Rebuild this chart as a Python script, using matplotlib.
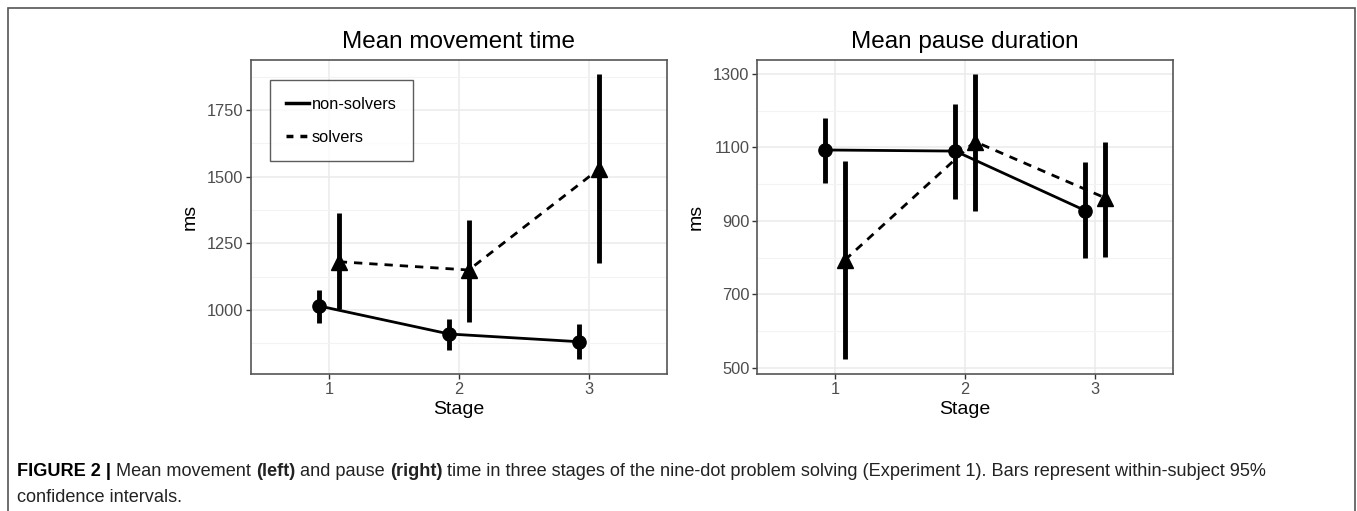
import matplotlib
matplotlib.use("Agg")
import matplotlib.pyplot as plt
from matplotlib.lines import Line2D
from matplotlib.patches import Rectangle
from matplotlib.ticker import FixedLocator

plt.rcParams['font.family'] = ['Liberation Sans', 'DejaVu Sans']

stages = [1, 2, 3]
stage_labels = ["1", "2", "3"]
groups = ["non-solvers", "solvers"]

# Mean movement time (ms)
move_non_mean = [1015, 910, 881]
move_non_lo = [952, 850, 815]
move_non_hi = [1075, 965, 946]
move_sol_mean = [1181, 1150, 1528]
move_sol_lo = [1002, 956, 1175]
move_sol_hi = [1362, 1337, 1885]
move_major = [1000, 1250, 1500, 1750]
move_minor = [875, 1125, 1375, 1625, 1875]

# Mean pause duration (ms)
pause_non_mean = [1093, 1090, 928]
pause_non_lo = [1004, 960, 800]
pause_non_hi = [1181, 1217, 1060]
pause_sol_mean = [793, 1116, 963]
pause_sol_lo = [523, 928, 802]
pause_sol_hi = [1064, 1300, 1116]
pause_major = [500, 700, 900, 1100, 1300]
pause_minor = [600, 800, 1000, 1200]

W, H = 1357, 511
fig = plt.figure(figsize=(W / 100, H / 100), dpi=100)

# outer frame
fig.patches.append(Rectangle((8 / W, -0.01), (1355 - 8) / W, 1 - 8 / H + 0.01,
                             transform=fig.transFigure, fill=False,
                             edgecolor='#555555', linewidth=1.2))

dodge = 0.075
tick_col = '#4d4d4d'
grid_col = '#ebebeb'


def panel(rect, title, nm, nlo, nhi, sm, slo, shi, ylim, major, minor, legend=False):
    ax = fig.add_axes(rect)
    ax.set_xlim(0.4, 3.6)
    ax.set_ylim(*ylim)
    xn = [s - dodge for s in stages]
    xs = [s + dodge for s in stages]
    ax.set_axisbelow(True)
    ax.xaxis.set_major_locator(FixedLocator(stages))
    ax.set_xticklabels(stage_labels)
    ax.yaxis.set_major_locator(FixedLocator(major))
    ax.yaxis.set_minor_locator(FixedLocator(minor))
    ax.grid(True, which='major', color=grid_col, linewidth=1.1)
    ax.grid(True, which='minor', axis='y', color='#f3f3f3', linewidth=0.8)
    ax.tick_params(axis='y', which='minor', length=0)
    ax.tick_params(which='major', length=3.5, width=1.0, color='#333333',
                   labelcolor=tick_col, labelsize=11.8, pad=2)
    for sp in ax.spines.values():
        sp.set_color('#555555')
        sp.set_linewidth(1.2)
    ax.plot(xn, nm, color='black', linewidth=2.0, linestyle='-', zorder=3)
    ax.plot(xs, sm, color='black', linewidth=2.0, linestyle=(0, (3, 2.5)), zorder=3)
    ax.vlines(xn, nlo, nhi, color='black', linewidth=3.5, zorder=4)
    ax.vlines(xs, slo, shi, color='black', linewidth=3.5, zorder=4)
    ax.plot(xn, nm, linestyle='none', marker='o', markersize=9.5, color='black', zorder=5)
    ax.plot(xs, sm, linestyle='none', marker='^', markersize=11, color='black', zorder=5)
    ax.set_title(title, fontsize=17.5, pad=9)
    ax.set_xlabel('Stage', fontsize=14, labelpad=3)
    ax.set_ylabel('ms', fontsize=14, labelpad=6)
    if legend:
        handles = [Line2D([], [], color='black', linewidth=2.5, linestyle='-'),
                   Line2D([], [], color='black', linewidth=2.5, linestyle=(0, (2, 2)))]
        leg = ax.legend(handles, groups, loc='upper left', bbox_to_anchor=(0.045, 0.935),
                        fontsize=11.8, frameon=True, fancybox=False, handlelength=1.4,
                        handletextpad=0.15, labelspacing=1.1,
                        borderpad=1.0, borderaxespad=0)
        leg.get_frame().set_edgecolor('#333333')
        leg.get_frame().set_linewidth(1.0)
    return ax


bottom = 1 - 374 / H
height = 314 / H
width = 416 / W
panel([251 / W, bottom, width, height], 'Mean movement time',
      move_non_mean, move_non_lo, move_non_hi, move_sol_mean, move_sol_lo, move_sol_hi,
      (760, 1937.5), move_major, move_minor, legend=True)
panel([757 / W, bottom, width, height], 'Mean pause duration',
      pause_non_mean, pause_non_lo, pause_non_hi, pause_sol_mean, pause_sol_lo, pause_sol_hi,
      (483, 1338), pause_major, pause_minor)

cap_size = 13.05
y1 = 1 - 472 / H
y2 = 1 - 498 / H
t = fig.text(17 / W, y1, 'FIGURE 2 | ', fontsize=cap_size, fontweight='bold', va='center', ha='left')
fig.canvas.draw()
r = fig.canvas.get_renderer()


def add_run(prev, s, bold=False):
    bb = prev.get_window_extent(renderer=r)
    return fig.text(bb.x1 / W, y1, s, fontsize=cap_size, va='center', ha='left',
                    fontweight='bold' if bold else 'normal', color='#222222')


runs = [('Mean movement ', False), ('(left)', True), (' and pause ', False), ('(right)', True),
        (' time in three stages of the nine-dot problem solving (Experiment 1). Bars represent within-subject 95%', False)]
prev = t
for s, b in runs:
    prev = add_run(prev, s, b)
fig.text(17 / W, y2, 'confidence intervals.', fontsize=cap_size, va='center', ha='left', color='#222222')

fig.savefig('out.png', dpi=100)
